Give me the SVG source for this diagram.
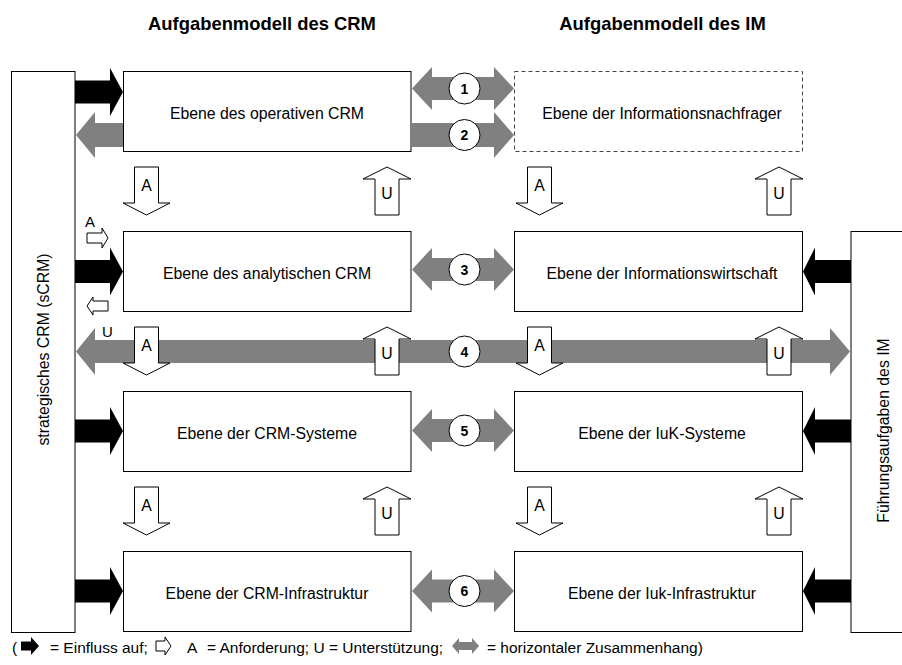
<svg xmlns="http://www.w3.org/2000/svg" width="902" height="665" viewBox="0 0 902 665">
<style>
  text { font-family: "Liberation Sans", Arial, Helvetica, sans-serif; fill: #000; }
  .t { font-size: 15.8px; text-anchor: middle; }
  .h { font-size: 18.4px; font-weight: bold; text-anchor: middle; }
  .n { font-size: 14px; font-weight: bold; text-anchor: middle; }
  .lg { font-size: 15.5px; }
  .box { fill: #fff; stroke: #000; stroke-width: 1; }
  .dash { fill: #fff; stroke: #444; stroke-width: 1; stroke-dasharray: 4 3; }
  .black { fill: #000; }
  .gray { fill: #808080; }
  .hollow { fill: #fff; stroke: #000; stroke-width: 1; }
  .num { fill: #fff; stroke: #000; stroke-width: 1; }
</style>
<defs>
  <!-- hollow "Anforderung" arrow, pointing down; origin = column centre / gap top -->
  <path id="arrA" d="M-12,16H12V52H23.5L0,64L-23.5,52H-12Z"/>
  <!-- hollow "Unterstützung" arrow, pointing up -->
  <path id="arrU" d="M0,16L24,28H12V64H-12V28H-24Z"/>
  <!-- black influence arrows; origin = tip -->
  <path id="infR" d="M0,0L-13,-24V-11.5H-48V11.5H-13V24Z"/>
  <path id="infL" d="M0,0L12,-24V-11.5H48V11.5H12V24Z"/>
  <!-- grey double arrow between the two task models; origin = left tip -->
  <path id="dbl" d="M0,0L20,-21.5V-11.5H82V-21.5L102,0L82,21.5V11.5H20V21.5Z"/>
</defs>

<!-- column headings -->
<text class="h" x="262" y="30">Aufgabenmodell des CRM</text>
<text class="h" x="662.5" y="30">Aufgabenmodell des IM</text>

<!-- side frames -->
<g id="strategisches-crm">
  <rect class="box" x="11.5" y="71.5" width="63.5" height="561"/>
  <text class="t" transform="translate(49,349.5) rotate(-90)">strategisches CRM (sCRM)</text>
</g>
<g id="fuehrungsaufgaben-im">
  <rect class="box" x="851" y="231.5" width="60" height="401"/>
  <text class="t" transform="translate(889,430.5) rotate(-90)">Führungsaufgaben des IM</text>
</g>

<!-- CRM levels -->
<g id="crm-operativ">
  <rect class="box" x="123.5" y="71.5" width="287.5" height="80"/>
  <text class="t" x="267" y="118.5">Ebene des operativen CRM</text>
</g>
<g id="crm-analytisch">
  <rect class="box" x="123.5" y="231.5" width="287.5" height="80"/>
  <text class="t" x="267" y="278.5">Ebene des analytischen CRM</text>
</g>
<g id="crm-systeme">
  <rect class="box" x="123.5" y="391.5" width="287.5" height="80"/>
  <text class="t" x="267" y="438.5">Ebene der CRM-Systeme</text>
</g>
<g id="crm-infrastruktur">
  <rect class="box" x="123.5" y="551.5" width="287.5" height="80"/>
  <text class="t" x="267" y="598.5">Ebene der CRM-Infrastruktur</text>
</g>

<!-- IM levels -->
<g id="im-nachfrager">
  <rect class="dash" x="514.5" y="71.5" width="288" height="80"/>
  <text class="t" x="662" y="118.5">Ebene der Informationsnachfrager</text>
</g>
<g id="im-informationswirtschaft">
  <rect class="box" x="514.5" y="231.5" width="288" height="80"/>
  <text class="t" x="662" y="278.5">Ebene der Informationswirtschaft</text>
</g>
<g id="im-iuk-systeme">
  <rect class="box" x="514.5" y="391.5" width="288" height="80"/>
  <text class="t" x="662" y="438.5">Ebene der IuK-Systeme</text>
</g>
<g id="im-iuk-infrastruktur">
  <rect class="box" x="514.5" y="551.5" width="288" height="80"/>
  <text class="t" x="662" y="598.5">Ebene der Iuk-Infrastruktur</text>
</g>

<g id="connectors">
  <!-- level 1 -->
  <use href="#infR" class="black" x="123" y="92"/>
  <path class="gray" d="M76,135L95,112V123H123V147H95V158Z"/>
  <use href="#dbl" class="gray" x="412" y="88.5"/>
  <path class="gray" d="M412,123H494V112L514,135L494,158V147H412Z"/>

  <!-- level 2 -->
  <use href="#infR" class="black" x="123" y="271.5"/>
  <use href="#infL" class="black" x="803" y="271.5"/>
  <use href="#dbl" class="gray" x="412" y="269.5"/>
  <path class="hollow" d="M87,233H102V228L108,238L102,248V243H87Z"/>
  <text class="t" x="90" y="227" style="font-size:15px">A</text>
  <path class="hollow" d="M87,306L93,297V301H108V311H93V315Z"/>
  <text class="t" x="107.5" y="337" style="font-size:15px">U</text>

  <!-- cross link 4 -->
  <path class="gray" d="M76,351.5L95,328V340H830V328L850,351.5L830,375V363H95V375Z"/>

  <!-- level 3 -->
  <use href="#infR" class="black" x="123" y="431"/>
  <use href="#infL" class="black" x="803" y="431"/>
  <use href="#dbl" class="gray" x="412" y="430.5"/>

  <!-- level 4 -->
  <use href="#infR" class="black" x="123" y="591"/>
  <use href="#infL" class="black" x="803" y="591"/>
  <use href="#dbl" class="gray" x="412" y="591"/>

  <!-- vertical requirement / support arrows -->
  <use href="#arrA" class="hollow" x="146.5" y="151"/>
  <use href="#arrU" class="hollow" x="387" y="151"/>
  <use href="#arrA" class="hollow" x="539.5" y="151"/>
  <use href="#arrU" class="hollow" x="779" y="151"/>
  <use href="#arrA" class="hollow" x="146.5" y="311"/>
  <use href="#arrU" class="hollow" x="387" y="311"/>
  <use href="#arrA" class="hollow" x="539.5" y="311"/>
  <use href="#arrU" class="hollow" x="779" y="311"/>
  <use href="#arrA" class="hollow" x="146.5" y="471"/>
  <use href="#arrU" class="hollow" x="387" y="471"/>
  <use href="#arrA" class="hollow" x="539.5" y="471"/>
  <use href="#arrU" class="hollow" x="779" y="471"/>
  <g class="t">
    <text x="146.5" y="191">A</text><text x="387" y="199">U</text>
    <text x="539.5" y="191">A</text><text x="779" y="199">U</text>
    <text x="146.5" y="351">A</text><text x="387" y="359">U</text>
    <text x="539.5" y="351">A</text><text x="779" y="359">U</text>
    <text x="146.5" y="511">A</text><text x="387" y="519">U</text>
    <text x="539.5" y="511">A</text><text x="779" y="519">U</text>
  </g>

  <!-- numbered relations -->
  <g>
    <circle class="num" cx="464.5" cy="88.5" r="15.5"/><text class="n" x="464.5" y="93.5">1</text>
    <circle class="num" cx="464.5" cy="135" r="15.5"/><text class="n" x="464.5" y="140">2</text>
    <circle class="num" cx="464.5" cy="269.5" r="15.5"/><text class="n" x="464.5" y="274.5">3</text>
    <circle class="num" cx="464.5" cy="351.5" r="15.5"/><text class="n" x="464.5" y="356.5">4</text>
    <circle class="num" cx="464.5" cy="430.5" r="15.5"/><text class="n" x="464.5" y="435.5">5</text>
    <circle class="num" cx="464.5" cy="591" r="15.5"/><text class="n" x="464.5" y="596">6</text>
  </g>
</g>

<!-- legend -->
<g id="legende">
  <text class="lg" x="12" y="653">(</text>
  <path class="black" d="M21,641.5H31V637L39,646L31,655V650.5H21Z"/>
  <text class="lg" x="50" y="653">= Einfluss auf;</text>
  <path class="hollow" d="M156,641H165V637L171,646L165,655V651H156Z"/>
  <text class="lg" x="187" y="653">A</text>
  <text class="lg" x="207" y="653">= Anforderung; U = Unterstützung;</text>
  <path class="gray" d="M452,646L459,638V642H472V638L479,646L472,654V650H459V654Z"/>
  <text class="lg" x="487" y="653">= horizontaler Zusammenhang)</text>
</g>
</svg>
